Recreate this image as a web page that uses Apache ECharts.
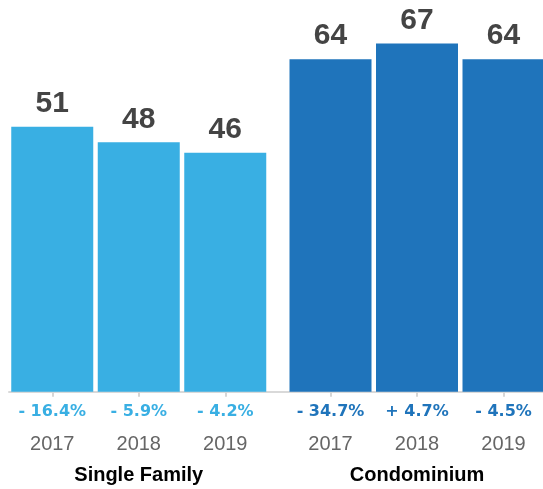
<!DOCTYPE html>
<html>
<head>
<meta charset="utf-8">
<script src="https://cdn.jsdelivr.net/npm/echarts@6/dist/echarts.min.js"></script>
<style>html,body{margin:0;padding:0;background:#fff}#c{width:543px;height:489px}</style>
</head>
<body>
<div id="c"></div>
<script>
const years = ['2017', '2018', '2019'];
const groups = ['Single Family', 'Condominium'];
const singleFamily = [51, 48, 46];
const condominium = [64, 67, 64];
const singleFamilyChange = ['- 16.4%', '- 5.9%', '- 4.2%'];
const condominiumChange = ['- 34.7%', '+ 4.7%', '- 4.5%'];

const colors = ['#39afe3', '#1f74bb'];
const valueSets = [singleFamily, condominium];
const changeSets = [singleFamilyChange, condominiumChange];

const chart = echarts.init(document.getElementById('c'), null, {renderer: 'canvas'});

const gridBox = [
  {left: 9, width: 259.5, top: 2, bottom: 66, outerBoundsMode: 'none', containLabel: false},
  {left: 287.25, width: 259.5, top: 2, bottom: 66, outerBoundsMode: 'none', containLabel: false},
  {left: 9, right: 0, top: 2, bottom: 66, outerBoundsMode: 'none', containLabel: false}
];

const xAxes = groups.map((g, i) => ({
  type: 'category', gridIndex: i, data: years,
  name: g, nameLocation: 'middle', nameGap: 42,
  nameTextStyle: {fontFamily: 'Liberation Sans', fontWeight: 'bold', fontSize: 20, color: '#000'},
  axisLine: {show: false},
  axisTick: {show: true, alignWithLabel: true, length: 5, lineStyle: {color: '#d6d6d6', width: 2}},
  axisLabel: {fontFamily: 'Liberation Sans', fontSize: 20, color: '#666', margin: 11}
}));
xAxes.push({
  type: 'category', gridIndex: 2, data: [''],
  axisLine: {show: true, lineStyle: {color: '#d9d9d9', width: 2}},
  axisTick: {show: false}, axisLabel: {show: false}
});

const yAxes = [0, 1, 2].map(i => ({
  type: 'value', gridIndex: i, min: -6, max: 75, show: false, splitLine: {show: false}
}));

const series = [];
groups.forEach((g, i) => {
  series.push({
    type: 'bar', xAxisIndex: i, yAxisIndex: i, data: valueSets[i],
    barWidth: 82, barGap: '-100%',
    itemStyle: {color: colors[i]},
    label: {show: true, position: 'top', distance: 8,
      fontFamily: 'Liberation Sans', fontWeight: 'bold', fontSize: 30, color: '#444'}
  });
  series.push({
    type: 'bar', xAxisIndex: i, yAxisIndex: i, data: valueSets[i],
    barWidth: 82, barGap: '-100%', silent: true,
    itemStyle: {color: 'rgba(0,0,0,0)'},
    label: {show: true, position: 'bottom', distance: 12,
      formatter: p => changeSets[i][p.dataIndex],
      fontFamily: 'DejaVu Sans', fontWeight: 'bold', fontSize: 16, color: colors[i]}
  });
});

chart.setOption({
  animation: false,
  grid: gridBox,
  xAxis: xAxes,
  yAxis: yAxes,
  series: series
});
</script>
</body>
</html>
